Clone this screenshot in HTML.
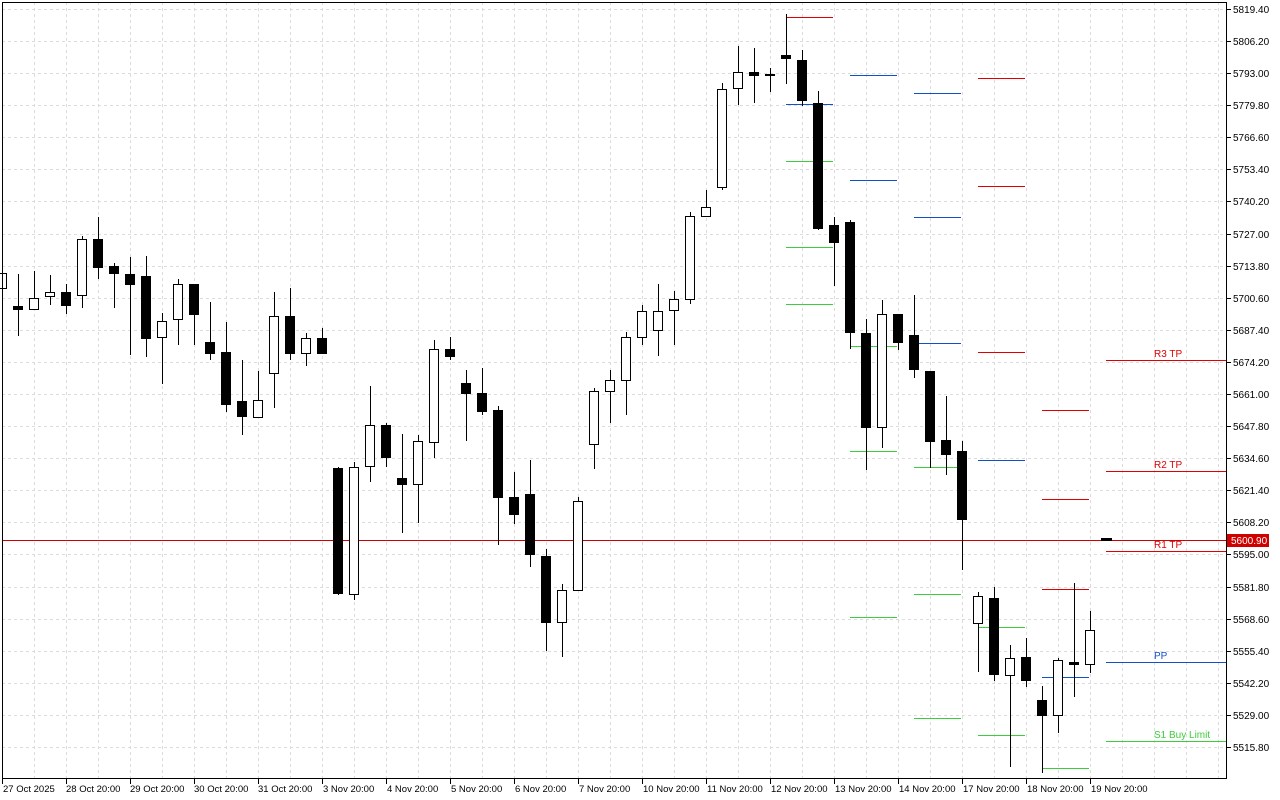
<!DOCTYPE html>
<html><head><meta charset="utf-8"><style>
html,body{margin:0;padding:0;background:#fff;width:1280px;height:800px;overflow:hidden}
svg{display:block;font-family:"Liberation Sans",sans-serif}
</style></head><body>
<svg width="1280" height="800" viewBox="0 0 1280 800" xmlns="http://www.w3.org/2000/svg" shape-rendering="crispEdges">
<g stroke="#dcdcdc" stroke-dasharray="3,3" stroke-width="1">
<path d="M2 9.5H1227M2 41.5H1227M2 73.5H1227M2 105.5H1227M2 137.5H1227M2 169.5H1227M2 201.5H1227M2 234.5H1227M2 266.5H1227M2 298.5H1227M2 330.5H1227M2 362.5H1227M2 394.5H1227M2 426.5H1227M2 458.5H1227M2 490.5H1227M2 522.5H1227M2 554.5H1227M2 587.5H1227M2 619.5H1227M2 651.5H1227M2 683.5H1227M2 715.5H1227M2 747.5H1227"/>
<path d="M34.5 2V779M66.5 2V779M98.5 2V779M130.5 2V779M162.5 2V779M194.5 2V779M226.5 2V779M258.5 2V779M290.5 2V779M322.5 2V779M354.5 2V779M386.5 2V779M418.5 2V779M450.5 2V779M482.5 2V779M514.5 2V779M546.5 2V779M578.5 2V779M610.5 2V779M642.5 2V779M674.5 2V779M706.5 2V779M738.5 2V779M770.5 2V779M802.5 2V779M834.5 2V779M866.5 2V779M898.5 2V779M930.5 2V779M962.5 2V779M994.5 2V779M1026.5 2V779M1058.5 2V779M1090.5 2V779M1122.5 2V779M1154.5 2V779M1186.5 2V779M1218.5 2V779"/>
</g>
<!-- level segments -->
<g stroke-width="1">
<path stroke="#e00000" d="M786 17.5H833M978 78.5H1025M978 186.5H1025M978 352.5H1025M1042 410.5H1089M1042 499.5H1089M1042 589.5H1089M1106 360.5H1227M1106 471.5H1227M1106 551.5H1227"/>
<path stroke="#1050c8" d="M786 104.5H833M850 75.5H897M850 180.5H897M914 93.5H961M914 217.5H961M914 343.5H961M978 460.5H1025M1042 677.5H1089M1106 662.5H1227"/>
<path stroke="#3ccc3c" d="M786 161.5H833M786 247.5H833M786 304.5H833M850 346.5H897M850 451.5H897M850 617.5H897M914 467.5H961M914 594.5H961M914 718.5H961M978 627.5H1025M978 735.5H1025M1042 768.5H1089M1106 741.5H1227"/>
</g>
<g font-size="10">
<text x="1154" y="357" fill="#e00000">R3 TP</text>
<text x="1154" y="468" fill="#e00000">R2 TP</text>
<text x="1154" y="548" fill="#e00000">R1 TP</text>
<text x="1154" y="659" fill="#1050c8">PP</text>
<text x="1154" y="738" fill="#3ccc3c">S1 Buy Limit</text>
</g>
<path stroke="#d00000" stroke-width="1" d="M2 540.5H1227"/>
<g id="c" stroke="#000" stroke-width="1">
<path d="M2.5 270V290M18.5 274V336M34.5 271V309M50.5 275V305M66.5 284V314M82.5 236V308M98.5 217V279M114.5 263V308M130.5 257V355M146.5 256V357M162.5 313V384M178.5 279V345M194.5 284V345M210.5 302V360M226.5 322V412M242.5 360V435M258.5 371V417M274.5 292V408M290.5 288V360M306.5 333V366M322.5 328V353M338.5 467V595M354.5 462V600M370.5 386V482M386.5 423V467M402.5 434V533M418.5 435V523M434.5 340V458M450.5 337V360M466.5 370V441M482.5 368V415M498.5 406V545M514.5 472V524M530.5 460V567M546.5 549V651M562.5 584V657M578.5 497V590M594.5 388V469M610.5 370V423M626.5 332V415M642.5 305V345M658.5 284V356M674.5 291V345M690.5 212V304M706.5 190V216M722.5 83V190M738.5 46V105M754.5 48V103M770.5 68V92M786.5 14V84M802.5 50V106M818.5 91V230M834.5 217V286M850.5 220V349M866.5 319V470M882.5 300V448M898.5 314V350M914.5 295V378M930.5 371V468M946.5 396V475M962.5 441V570M978.5 592V672M994.5 587V681M1010.5 645V767M1026.5 638V687M1042.5 686V773M1058.5 658V733M1074.5 583V697M1090.5 611V673"/>
<g fill="#fff">
<rect x="-2.5" y="273.5" width="9" height="15"/>
<rect x="29.5" y="298.5" width="9" height="11"/>
<rect x="45.5" y="292.5" width="9" height="4"/>
<rect x="77.5" y="239.5" width="9" height="56"/>
<rect x="157.5" y="321.5" width="9" height="16"/>
<rect x="173.5" y="284.5" width="9" height="35"/>
<rect x="253.5" y="400.5" width="9" height="17"/>
<rect x="269.5" y="316.5" width="9" height="57"/>
<rect x="301.5" y="338.5" width="9" height="15"/>
<rect x="349.5" y="467.5" width="9" height="127"/>
<rect x="365.5" y="425.5" width="9" height="41"/>
<rect x="413.5" y="441.5" width="9" height="43"/>
<rect x="429.5" y="349.5" width="9" height="93"/>
<rect x="557.5" y="590.5" width="9" height="32"/>
<rect x="573.5" y="501.5" width="9" height="89"/>
<rect x="589.5" y="391.5" width="9" height="53"/>
<rect x="605.5" y="380.5" width="9" height="11"/>
<rect x="621.5" y="337.5" width="9" height="43"/>
<rect x="637.5" y="311.5" width="9" height="26"/>
<rect x="653.5" y="311.5" width="9" height="19"/>
<rect x="669.5" y="299.5" width="9" height="11"/>
<rect x="685.5" y="216.5" width="9" height="83"/>
<rect x="701.5" y="207.5" width="9" height="9"/>
<rect x="717.5" y="89.5" width="9" height="98"/>
<rect x="733.5" y="72.5" width="9" height="16"/>
<rect x="877.5" y="314.5" width="9" height="113"/>
<rect x="973.5" y="596.5" width="9" height="27"/>
<rect x="1005.5" y="658.5" width="9" height="17"/>
<rect x="1053.5" y="660.5" width="9" height="55"/>
<rect x="1085.5" y="630.5" width="9" height="34"/>
</g>
<g fill="#000">
<rect x="13.5" y="306.5" width="9" height="3"/>
<rect x="61.5" y="292.5" width="9" height="13"/>
<rect x="93.5" y="239.5" width="9" height="28"/>
<rect x="109.5" y="266.5" width="9" height="7"/>
<rect x="125.5" y="274.5" width="9" height="10"/>
<rect x="141.5" y="276.5" width="9" height="62"/>
<rect x="189.5" y="284.5" width="9" height="30"/>
<rect x="205.5" y="342.5" width="9" height="11"/>
<rect x="221.5" y="352.5" width="9" height="52"/>
<rect x="237.5" y="401.5" width="9" height="15"/>
<rect x="285.5" y="316.5" width="9" height="37"/>
<rect x="317.5" y="338.5" width="9" height="15"/>
<rect x="333.5" y="468.5" width="9" height="125"/>
<rect x="381.5" y="425.5" width="9" height="32"/>
<rect x="397.5" y="478.5" width="9" height="6"/>
<rect x="445.5" y="349.5" width="9" height="7"/>
<rect x="461.5" y="383.5" width="9" height="10"/>
<rect x="477.5" y="393.5" width="9" height="18"/>
<rect x="493.5" y="410.5" width="9" height="87"/>
<rect x="509.5" y="497.5" width="9" height="17"/>
<rect x="525.5" y="494.5" width="9" height="60"/>
<rect x="541.5" y="556.5" width="9" height="66"/>
<rect x="749.5" y="72.5" width="9" height="3"/>
<rect x="765.5" y="74.5" width="9" height="1"/>
<rect x="781.5" y="55.5" width="9" height="3"/>
<rect x="797.5" y="60.5" width="9" height="40"/>
<rect x="813.5" y="103.5" width="9" height="125"/>
<rect x="829.5" y="225.5" width="9" height="17"/>
<rect x="845.5" y="222.5" width="9" height="110"/>
<rect x="861.5" y="333.5" width="9" height="94"/>
<rect x="893.5" y="314.5" width="9" height="28"/>
<rect x="909.5" y="335.5" width="9" height="34"/>
<rect x="925.5" y="371.5" width="9" height="70"/>
<rect x="941.5" y="440.5" width="9" height="14"/>
<rect x="957.5" y="451.5" width="9" height="68"/>
<rect x="989.5" y="598.5" width="9" height="76"/>
<rect x="1021.5" y="657.5" width="9" height="23"/>
<rect x="1037.5" y="700.5" width="9" height="15"/>
<rect x="1069.5" y="662.5" width="9" height="2"/>
<rect x="1101" y="538" width="11" height="3" stroke="none"/>
</g>
</g>
<!-- border -->
<rect x="2.5" y="2.5" width="1224" height="776" fill="none" stroke="#000"/>
<!-- price axis -->
<g stroke="#000"><path d="M1227 9.5h4M1227 41.5h4M1227 73.5h4M1227 105.5h4M1227 137.5h4M1227 169.5h4M1227 201.5h4M1227 234.5h4M1227 266.5h4M1227 298.5h4M1227 330.5h4M1227 362.5h4M1227 394.5h4M1227 426.5h4M1227 458.5h4M1227 490.5h4M1227 522.5h4M1227 554.5h4M1227 587.5h4M1227 619.5h4M1227 651.5h4M1227 683.5h4M1227 715.5h4M1227 747.5h4"/></g>
<g font-size="10" fill="#000">
<text x="1233" y="13">5819.40</text><text x="1233" y="45">5806.20</text><text x="1233" y="77">5793.00</text><text x="1233" y="109">5779.80</text><text x="1233" y="141">5766.60</text><text x="1233" y="173">5753.40</text><text x="1233" y="205">5740.20</text><text x="1233" y="238">5727.00</text><text x="1233" y="270">5713.80</text><text x="1233" y="302">5700.60</text><text x="1233" y="334">5687.40</text><text x="1233" y="366">5674.20</text><text x="1233" y="398">5661.00</text><text x="1233" y="430">5647.80</text><text x="1233" y="462">5634.60</text><text x="1233" y="494">5621.40</text><text x="1233" y="526">5608.20</text><text x="1233" y="558">5595.00</text><text x="1233" y="591">5581.80</text><text x="1233" y="623">5568.60</text><text x="1233" y="655">5555.40</text><text x="1233" y="687">5542.20</text><text x="1233" y="719">5529.00</text><text x="1233" y="751">5515.80</text>
</g>
<rect x="1227" y="534" width="42" height="13" fill="#d00000"/>
<text x="1231" y="544" font-size="10" fill="#fff">5600.90</text>
<!-- time axis -->
<g stroke="#000"><path d="M2.5 779v5M66.5 779v5M130.5 779v5M194.5 779v5M258.5 779v5M322.5 779v5M386.5 779v5M450.5 779v5M514.5 779v5M578.5 779v5M642.5 779v5M706.5 779v5M770.5 779v5M834.5 779v5M898.5 779v5M962.5 779v5M1026.5 779v5M1090.5 779v5"/></g>
<g font-size="9.5" fill="#000">
<text x="3" y="792">27 Oct 2025</text><text x="66" y="792">28 Oct 20:00</text><text x="130" y="792">29 Oct 20:00</text><text x="194" y="792">30 Oct 20:00</text><text x="258" y="792">31 Oct 20:00</text><text x="323" y="792">3 Nov 20:00</text><text x="387" y="792">4 Nov 20:00</text><text x="451" y="792">5 Nov 20:00</text><text x="515" y="792">6 Nov 20:00</text><text x="579" y="792">7 Nov 20:00</text><text x="643" y="792">10 Nov 20:00</text><text x="707" y="792">11 Nov 20:00</text><text x="771" y="792">12 Nov 20:00</text><text x="835" y="792">13 Nov 20:00</text><text x="899" y="792">14 Nov 20:00</text><text x="963" y="792">17 Nov 20:00</text><text x="1027" y="792">18 Nov 20:00</text><text x="1091" y="792">19 Nov 20:00</text>
</g>
</svg>
</body></html>
